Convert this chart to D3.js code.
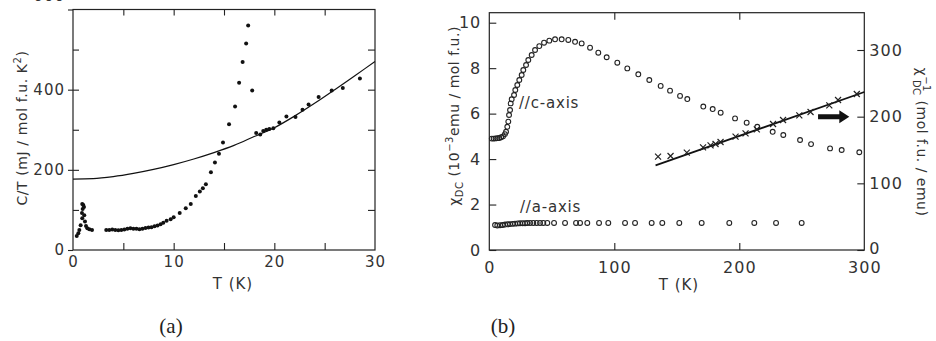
<!DOCTYPE html>
<html>
<head>
<meta charset="utf-8">
<script src="https://cdn.jsdelivr.net/npm/d3@7/dist/d3.min.js"></script>
<style>
  html, body { margin: 0; padding: 0; background: #fff; }
  svg { display: block; }
  .tick text, .lbl { font-family: "DejaVu Sans", sans-serif; fill: #333; }
  .domain { display: none; }
  .tick line { stroke: #222; stroke-width: 1.1; }
</style>
</head>
<body>
<div id="chart"></div>
<script>
// ---- panel (a): specific heat C/T vs T ----
const tA = [0.37, 0.53, 0.63, 0.76, 0.89, 0.92, 0.96, 1.02, 0.92, 1.09, 1.12, 1.19, 1.29, 1.42, 1.62, 1.89,
  3.3, 3.6, 3.9, 4.2, 4.5, 4.8, 5.1, 5.4, 5.7, 6.0, 6.3, 6.6, 6.9, 7.2, 7.5, 7.8, 8.1, 8.4, 8.7,
  8.97, 9.3, 9.7, 10.0, 10.6, 11.2, 11.7, 12.2, 12.6, 12.9, 13.2, 13.7, 14.1, 14.5, 14.9, 15.5, 16.1,
  16.5, 16.85, 17.2, 17.4, 17.8, 18.2, 18.6, 18.9, 19.2, 19.5, 19.9, 20.5, 21.2, 22.1, 22.8, 23.4,
  24.4, 25.7, 26.8, 28.5]
const ctA = [35, 42, 50, 62, 92, 79, 102, 112, 115, 107, 87, 71, 60, 54, 52, 50,
  50, 50, 51, 50, 49, 50, 51, 53, 54, 53, 53, 52, 53, 55, 56, 57, 59, 61, 64,
  68, 73, 77, 82, 92, 104, 115, 135, 146, 154, 164, 194, 218, 240, 268, 314, 358,
  417, 469, 515, 560, 398, 292, 288, 297, 300, 302, 304, 318, 333, 332, 350, 363,
  382, 398, 404, 428]
// fitted curve
const fitT = [0, 2, 4, 6, 8, 10, 12, 14, 16, 18, 20, 22, 24, 26, 28, 30]
const fitCT = [177, 178, 183, 191, 201, 213, 227, 243, 261, 283, 305, 334, 366, 400, 435, 470]

// ---- panel (b): susceptibility vs T ----
const tC = [2, 3.5, 5, 6.5, 8, 9.5, 11, 12.5, 13.4, 14.4, 15.2, 15.8, 16.6, 17.1, 17.9, 19.8, 20.8, 22.4,
  24, 25.9, 27.2, 29.4, 31.2, 33.9, 36.6, 40, 43.8, 48, 52.6, 57.9, 63.2, 68.6, 73.9, 80.6, 87.2, 93.9,
  102.4, 110.4, 119.2, 128, 137.1, 144.6, 152.6, 158.4, 171.2, 178.7, 185.1, 196.6, 205.9, 214.4,
  226.7, 235.2, 248.6, 257.4, 272.6, 281.9, 296]
const chiC = [4.9, 4.9, 4.91, 4.92, 4.93, 4.96, 5.0, 5.1, 5.2, 5.42, 5.65, 5.94, 6.16, 6.45, 6.63, 6.82, 7.04, 7.26,
  7.48, 7.7, 7.92, 8.14, 8.36, 8.58, 8.8, 8.97, 9.12, 9.21, 9.27, 9.27, 9.24, 9.16, 9.09, 8.9, 8.68, 8.48,
  8.24, 7.99, 7.73, 7.48, 7.22, 7.01, 6.78, 6.64, 6.31, 6.2, 6.04, 5.79, 5.6, 5.42,
  5.2, 5.06, 4.84, 4.66, 4.47, 4.4, 4.3]
const tAx = [4.6, 6.4, 8.6, 10.7, 12.6, 14.7, 16.6, 18.7, 20.6, 22.7, 24.6, 26.7, 28.6, 30.4, 32.6, 35.2,
  37.9, 40.6, 43.2, 46.4, 51.8, 60.6, 69.4, 72.6, 78.4, 87.8, 95.2, 108.6, 116.6, 129.9, 138.4, 152,
  169.9, 192, 212, 229.4, 249.9]
const chiAx = [1.1, 1.08, 1.09, 1.1, 1.12, 1.13, 1.14, 1.15, 1.16, 1.17, 1.18, 1.18, 1.18, 1.19, 1.19, 1.19,
  1.19, 1.19, 1.19, 1.19, 1.19, 1.19, 1.19, 1.19, 1.19, 1.19, 1.19, 1.19, 1.19, 1.19, 1.19, 1.19,
  1.19, 1.19, 1.19, 1.19, 1.19]
const tInv = [135, 145, 158, 171, 177, 181, 185, 197, 205, 214, 227, 235, 248, 257, 272, 279, 294]
const chiInv = [140, 141, 146, 154, 157, 159, 162, 170, 175, 181, 189, 195, 202, 207, 217, 225, 234]
const lineT = [133, 300]
const lineInv = [127, 237]

const svg = d3.select('#chart').append('svg')
  .attr('width', 936)
  .attr('height', 341)

// ================= panel (a) =================
const xA = d3.scaleLinear().domain([0, 30]).range([73, 375])
const yA = d3.scaleLinear().domain([0, 600]).range([250, 9.5])
const gA = svg.append('g')

gA.append('rect')
  .attr('x', xA(0)).attr('y', yA(600))
  .attr('width', xA(30) - xA(0)).attr('height', yA(0) - yA(600))
  .attr('fill', 'none').attr('stroke', '#222').attr('stroke-width', 1.2)

// labelled left axis, ticks crossing frame
gA.append('g').attr('transform', `translate(${xA(0)},0)`)
  .call(d3.axisLeft(yA).tickValues([0, 200, 400, 600]).tickSize(5).tickPadding(3))
  .call(g => g.selectAll('text').attr('font-size', 15).attr('letter-spacing', 1))
  // the top label is cut by the page edge in the original
  .call(g => g.selectAll('.tick text').filter(d => d === 600).attr('dy', '-0.62em'))
gA.append('g').attr('transform', `translate(${xA(0)},0)`)
  .call(d3.axisLeft(yA).tickValues([100, 200, 300, 400, 500]).tickSize(-6).tickFormat(''))
gA.append('g').attr('transform', `translate(${xA(30)},0)`)
  .call(d3.axisRight(yA).tickValues([100, 200, 300, 400, 500]).tickSize(-7).tickFormat(''))
gA.append('g').attr('transform', `translate(0,${yA(0)})`)
  .call(d3.axisBottom(xA).tickValues([0, 10, 20, 30]).tickSize(0).tickPadding(6))
  .call(g => g.selectAll('text').attr('font-size', 15).attr('letter-spacing', 1))
gA.append('g').attr('transform', `translate(0,${yA(0)})`)
  .call(d3.axisBottom(xA).tickValues([5, 10, 15, 20, 25]).tickSize(-7).tickFormat(''))
gA.append('g').attr('transform', `translate(0,${yA(600)})`)
  .call(d3.axisTop(xA).tickValues([5, 10, 15, 20, 25]).tickSize(-6).tickFormat(''))

gA.append('path')
  .datum(fitT.map((t, i) => [t, fitCT[i]]))
  .attr('d', d3.line().x(d => xA(d[0])).y(d => yA(d[1])).curve(d3.curveMonotoneX))
  .attr('fill', 'none').attr('stroke', '#111').attr('stroke-width', 1.2)

gA.append('g').selectAll('circle')
  .data(tA.map((t, i) => [t, ctA[i]]))
  .join('circle')
  .attr('cx', d => xA(d[0])).attr('cy', d => yA(d[1]))
  .attr('r', 2).attr('fill', '#111')

gA.append('text').attr('class', 'lbl')
  .attr('x', 233).attr('y', 289).attr('text-anchor', 'middle')
  .attr('font-size', 15).attr('letter-spacing', 1)
  .text('T (K)')

const ylA = gA.append('text').attr('class', 'lbl')
  .attr('transform', 'translate(27,128) rotate(-90)')
  .attr('text-anchor', 'middle').attr('font-size', 14).attr('letter-spacing', 0.6)
ylA.append('tspan').text('C/T (mJ / mol f.u. K')
ylA.append('tspan').attr('dy', -6).attr('font-size', 10).text('2')
ylA.append('tspan').attr('dy', 6).text(')')

// ================= panel (b) =================
const xB = d3.scaleLinear().domain([0, 300]).range([489.3, 864.3])
const yB = d3.scaleLinear().domain([0, 10]).range([250, 22.7])
const yR = d3.scaleLinear().domain([0, 300]).range([250, 50])
const gB = svg.append('g')
const topB = 12.7

gB.append('rect')
  .attr('x', xB(0)).attr('y', topB)
  .attr('width', xB(300) - xB(0)).attr('height', yB(0) - topB)
  .attr('fill', 'none').attr('stroke', '#222').attr('stroke-width', 1.2)

gB.append('g').attr('transform', `translate(${xB(0)},0)`)
  .call(d3.axisLeft(yB).tickValues([0, 2, 4, 6, 8, 10]).tickSize(-7).tickPadding(8))
  .call(g => g.selectAll('text').attr('font-size', 16).attr('letter-spacing', 1))
gB.append('g').attr('transform', `translate(${xB(300)},0)`)
  .call(d3.axisRight(yR).tickValues([0, 100, 200, 300]).tickSize(-7).tickPadding(5))
  .call(g => g.selectAll('text').attr('font-size', 16).attr('letter-spacing', 1))
  .call(g => g.selectAll('.tick text').attr('x', 5))
  .call(g => g.selectAll('.tick text').filter(d => d === 0).attr('dy', '0.2em'))
gB.append('g').attr('transform', `translate(0,${yB(0)})`)
  .call(d3.axisBottom(xB).tickValues([0, 100, 200, 300]).tickSize(0).tickPadding(12))
  .call(g => g.selectAll('text').attr('font-size', 16).attr('letter-spacing', 1))
gB.append('g').attr('transform', `translate(0,${yB(0)})`)
  .call(d3.axisBottom(xB).tickValues([100, 200]).tickSize(-7).tickFormat(''))
gB.append('g').attr('transform', `translate(0,${topB})`)
  .call(d3.axisTop(xB).tickValues([100, 200]).tickSize(-7).tickFormat(''))

// c-axis and a-axis susceptibility, open circles
gB.append('g').selectAll('circle')
  .data(tC.map((t, i) => [t, chiC[i]]).concat(tAx.map((t, i) => [t, chiAx[i]])))
  .join('circle')
  .attr('cx', d => xB(d[0])).attr('cy', d => yB(d[1]))
  .attr('r', 2.4).attr('fill', 'none').attr('stroke', '#222').attr('stroke-width', 1.1)

// inverse susceptibility, fit line and thin crosses
gB.append('path')
  .datum(lineT.map((t, i) => [t, lineInv[i]]))
  .attr('d', d3.line().x(d => xB(d[0])).y(d => yR(d[1])))
  .attr('fill', 'none').attr('stroke', '#111').attr('stroke-width', 1.8)

gB.append('g').selectAll('path')
  .data(tInv.map((t, i) => [t, chiInv[i]]))
  .join('path')
  .attr('d', 'M-3,-3L3,3M-3,3L3,-3')
  .attr('transform', d => `translate(${xB(d[0])},${yR(d[1])})`)
  .attr('fill', 'none').attr('stroke', '#222').attr('stroke-width', 1.2)

// arrow to the right axis
const ax0 = xB(263), ax1 = xB(288), ay = yR(200)
gB.append('path')
  .attr('d', `M${ax0},${ay - 2.5}L${ax1 - 10},${ay - 2.5}L${ax1 - 10},${ay - 6.5}L${ax1},${ay}L${ax1 - 10},${ay + 6.5}L${ax1 - 10},${ay + 2.5}L${ax0},${ay + 2.5}Z`)
  .attr('fill', '#111')

gB.append('text').attr('class', 'lbl')
  .attr('x', 519).attr('y', 108).attr('font-size', 15).attr('letter-spacing', 0.8)
  .text('//c-axis')
gB.append('text').attr('class', 'lbl')
  .attr('x', 520).attr('y', 212).attr('font-size', 15).attr('letter-spacing', 0.8)
  .text('//a-axis')

gB.append('text').attr('class', 'lbl')
  .attr('x', 679).attr('y', 290).attr('text-anchor', 'middle')
  .attr('font-size', 15).attr('letter-spacing', 1)
  .text('T (K)')

const ylB = gB.append('text').attr('class', 'lbl')
  .attr('transform', 'translate(459,116) rotate(-90)')
  .attr('text-anchor', 'middle').attr('font-size', 14).attr('letter-spacing', 0.5)
ylB.append('tspan').text('χ')
ylB.append('tspan').attr('dy', 4).attr('font-size', 10).text('DC')
ylB.append('tspan').attr('dy', -4).text(' (10')
ylB.append('tspan').attr('dy', -6).attr('font-size', 10).text('−3')
ylB.append('tspan').attr('dy', 6).text('emu / mol f.u.)')

const yrB = gB.append('text').attr('class', 'lbl')
  .attr('transform', 'translate(917,142) rotate(90)')
  .attr('text-anchor', 'middle').attr('font-size', 14).attr('letter-spacing', 0.5)
yrB.append('tspan').text('χ')
yrB.append('tspan').attr('dy', -6).attr('font-size', 10).text('−1')
yrB.append('tspan').attr('dx', -12).attr('dy', 10).attr('font-size', 10).text('DC')
yrB.append('tspan').attr('dy', -4).text(' (mol f.u. / emu)')

// panel captions
svg.append('text').attr('x', 171).attr('y', 333).attr('text-anchor', 'middle')
  .attr('font-family', '"Liberation Serif", "DejaVu Serif", serif').attr('font-size', 21).attr('fill', '#222')
  .text('(a)')
svg.append('text').attr('x', 503).attr('y', 333).attr('text-anchor', 'middle')
  .attr('font-family', '"Liberation Serif", "DejaVu Serif", serif').attr('font-size', 21).attr('fill', '#222')
  .text('(b)')
</script>
</body>
</html>
